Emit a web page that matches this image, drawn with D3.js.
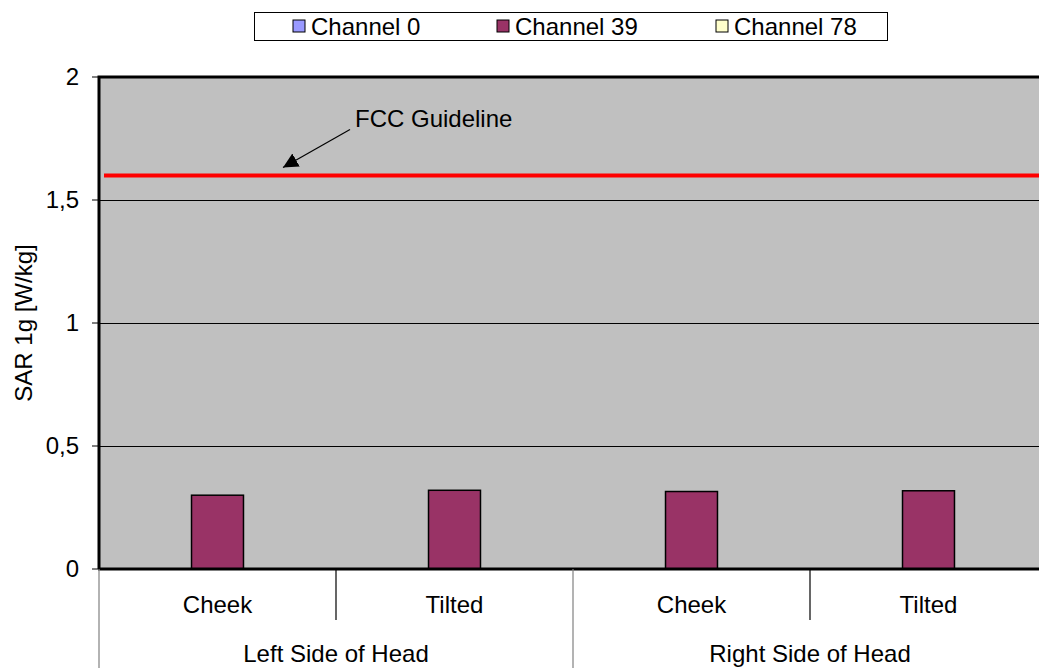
<!DOCTYPE html>
<html>
<head>
<meta charset="utf-8">
<script src="https://cdn.jsdelivr.net/npm/d3@7"></script>
<style>
  body { margin: 0; background: #fff; }
  svg { display: block; font-family: "Liberation Sans", Arial, sans-serif; }
</style>
</head>
<body>
<svg id="chart" width="1039" height="668"></svg>
<script>
// chart data
var categories = ['Cheek', 'Tilted', 'Cheek', 'Tilted'];
var groups = ['Left Side of Head', 'Right Side of Head'];
var series = ['Channel 0', 'Channel 39', 'Channel 78'];
var channel0 = [null, null, null, null];
var channel39 = [0.30, 0.32, 0.315, 0.318];
var channel78 = [null, null, null, null];
var yTicks = [0, 0.5, 1, 1.5, 2];
var yTickLabels = ['0', '0,5', '1', '1,5', '2'];
var guideline = 1.6;

var colors = ['#9999FF', '#993366', '#FFFFCC'];
var values = [channel0, channel39, channel78];
var fs = 24;

var svg = d3.select('#chart');
var plotLeft = 99, plotTop = 77, plotRight = 1047, plotBottom = 569;

var x = d3.scaleBand()
  .domain(d3.range(categories.length))
  .range([plotLeft, plotRight]);
var xs = d3.scaleBand()
  .domain(series)
  .range([0, x.bandwidth()])
  .paddingOuter(0.78);
var y = d3.scaleLinear().domain([0, 2]).range([plotBottom, plotTop]);

// plot area
svg.append('rect')
  .attr('x', plotLeft).attr('y', plotTop)
  .attr('width', plotRight - plotLeft).attr('height', plotBottom - plotTop)
  .attr('fill', '#C0C0C0');

// gridlines
svg.selectAll('line.grid')
  .data(yTicks.filter(function (d) { return d > 0 && d < 2; }))
  .enter().append('line')
  .attr('class', 'grid')
  .attr('x1', plotLeft).attr('x2', plotRight)
  .attr('y1', function (d) { return Math.round(y(d)) + 0.5; })
  .attr('y2', function (d) { return Math.round(y(d)) + 0.5; })
  .attr('stroke', '#000').attr('stroke-width', 1);

// bars
series.forEach(function (s, si) {
  svg.selectAll('rect.s' + si)
    .data(values[si].map(function (v, i) { return { i: i, v: v }; })
      .filter(function (d) { return d.v != null; }))
    .enter().append('rect')
    .attr('class', 's' + si)
    .attr('x', function (d) { return x(d.i) + xs(s); })
    .attr('width', xs.bandwidth())
    .attr('y', function (d) { return y(d.v); })
    .attr('height', function (d) { return y(0) - y(d.v); })
    .attr('fill', colors[si])
    .attr('stroke', '#000').attr('stroke-width', 1.5);
});

// border: top, left, bottom
svg.append('path')
  .attr('d', 'M' + plotLeft + ',' + plotBottom + 'V' + plotTop + 'H' + plotRight)
  .attr('fill', 'none').attr('stroke', '#000').attr('stroke-width', 3);
svg.append('line')
  .attr('x1', plotLeft - 1).attr('x2', plotRight)
  .attr('y1', y(0)).attr('y2', y(0))
  .attr('stroke', '#000').attr('stroke-width', 3);

// y axis ticks and labels
svg.selectAll('line.ytick')
  .data(yTicks).enter().append('line')
  .attr('x1', plotLeft - 7).attr('x2', plotLeft)
  .attr('y1', function (d) { return y(d); })
  .attr('y2', function (d) { return y(d); })
  .attr('stroke', '#000').attr('stroke-width', 1);
svg.selectAll('text.ytick')
  .data(yTicks).enter().append('text')
  .attr('x', plotLeft - 20)
  .attr('y', function (d) { return y(d); })
  .attr('dy', '0.35em')
  .attr('text-anchor', 'end')
  .attr('font-size', fs)
  .text(function (d, i) { return yTickLabels[i]; });

svg.append('text')
  .attr('transform', 'translate(32,' + ((plotTop + plotBottom) / 2) + ') rotate(-90)')
  .attr('text-anchor', 'middle')
  .attr('font-size', fs)
  .text('SAR 1g [W/kg]');

// category axis
categories.forEach(function (c, i) {
  var isGroupStart = i % 2 === 0;
  svg.append('line')
    .attr('x1', x(i)).attr('x2', x(i))
    .attr('y1', plotBottom).attr('y2', isGroupStart ? 668 : 620)
    .attr('stroke', isGroupStart ? '#808080' : '#000').attr('stroke-width', 1.2);
  svg.append('text')
    .attr('x', x(i) + x.bandwidth() / 2)
    .attr('y', 613)
    .attr('text-anchor', 'middle')
    .attr('font-size', fs)
    .text(c);
});
groups.forEach(function (g, gi) {
  svg.append('text')
    .attr('x', x(gi * 2) + x.bandwidth())
    .attr('y', 662)
    .attr('text-anchor', 'middle')
    .attr('font-size', fs)
    .text(g);
});

// FCC guideline
svg.append('line')
  .attr('x1', plotLeft + 5).attr('x2', plotRight)
  .attr('y1', y(guideline)).attr('y2', y(guideline))
  .attr('stroke', '#FF0000').attr('stroke-width', 4);

svg.append('defs').append('marker')
  .attr('id', 'arrow')
  .attr('viewBox', '0 0 10 10')
  .attr('refX', 10).attr('refY', 5)
  .attr('markerWidth', 15).attr('markerHeight', 15)
  .attr('markerUnits', 'userSpaceOnUse')
  .attr('orient', 'auto')
  .append('path').attr('d', 'M0,0L10,5L0,10Z').attr('fill', '#000');

svg.append('line')
  .attr('x1', 350).attr('y1', y(guideline) - 46)
  .attr('x2', 283).attr('y2', y(guideline) - 8)
  .attr('stroke', '#000').attr('stroke-width', 1.2)
  .attr('marker-end', 'url(#arrow)');
svg.append('text')
  .attr('x', 355).attr('y', y(guideline) - 48)
  .attr('font-size', fs)
  .text('FCC Guideline');

// legend
var legend = svg.append('g');
legend.append('rect')
  .attr('x', 254.5).attr('y', 12.5)
  .attr('width', 633).attr('height', 28)
  .attr('fill', '#fff').attr('stroke', '#000').attr('stroke-width', 1);
var legendX = [293, 497, 716];
series.forEach(function (s, si) {
  legend.append('rect')
    .attr('x', legendX[si]).attr('y', 20)
    .attr('width', 12).attr('height', 12)
    .attr('fill', colors[si]).attr('stroke', '#000').attr('stroke-width', 1);
  legend.append('text')
    .attr('x', legendX[si] + 18).attr('y', 35)
    .attr('font-size', fs)
    .text(s);
});
</script>
</body>
</html>
